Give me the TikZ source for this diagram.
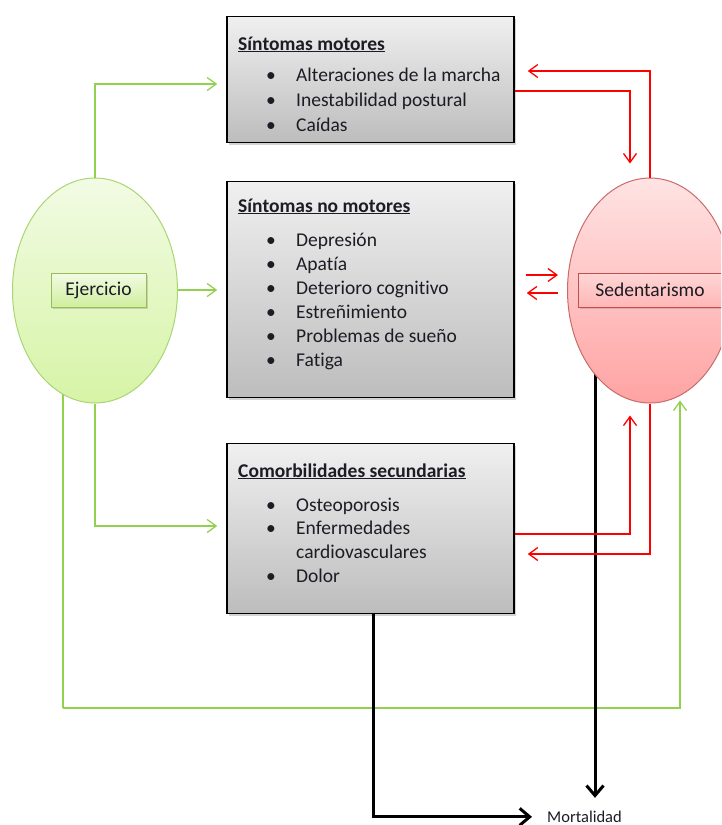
\documentclass[tikz,border=0pt]{standalone}
\usepackage{fontspec}
\setmainfont{Carlito}[Ligatures=NoCommon]
\usetikzlibrary{shapes.geometric,arrows.meta,shadows,backgrounds}
\definecolor{gline}{HTML}{92D050}
\definecolor{rline}{HTML}{FF0000}
\definecolor{gedge}{HTML}{A9D574}
\definecolor{gtop}{HTML}{F2FBE4}
\definecolor{gbot}{HTML}{D6F4A6}
\definecolor{redge}{HTML}{C96B69}
\definecolor{rtop}{HTML}{FFE3E3}
\definecolor{rbot}{HTML}{FFA3A3}
\definecolor{gboxedge}{HTML}{9BBB59}
\definecolor{rboxedge}{HTML}{C0504D}
\definecolor{txt}{HTML}{1C1C24}
\begin{document}
\begin{tikzpicture}[x=1pt,y=-1pt,
  font=\fontsize{19.5}{23.5}\selectfont,
  panel/.style={draw=black, line width=1.5pt, top color=black!6, bottom color=black!26,
    minimum width=287pt, inner sep=0pt,
    drop shadow={shadow xshift=2pt,shadow yshift=-2pt,opacity=0.35}},
  ttl/.style={anchor=base west, inner sep=0pt, text=txt, font=\fontsize{19.5}{23.5}\selectfont\bfseries},
  itm/.style={anchor=base west, inner sep=0pt, text=txt},
  bul/.style={anchor=base, inner sep=0pt, text=txt},
  oval/.style={ellipse, line width=1pt, minimum width=165pt, minimum height=225pt, inner sep=0pt},
  lbl/.style={minimum height=34pt, inner sep=0pt, line width=1pt, text=txt,
    drop shadow={shadow xshift=1.5pt,shadow yshift=-1.5pt,opacity=0.3}},
  garrow/.style={draw=gline, line width=1.3pt, -{Straight Barb[length=9pt,width=13pt]}},
  gline/.style={draw=gline, line width=1.3pt},
  rarrow/.style={draw=rline, line width=1.3pt, -{Straight Barb[length=9pt,width=13pt]}},
  barrow/.style={draw=black, line width=3pt, -{Straight Barb[length=10pt,width=17pt]}}
]
\useasboundingbox (0,0) rectangle (721,825);
\clip (0,0) rectangle (721,825);

% panels
\node[panel, minimum height=126pt] (m1) at (370.5,79.5) {};
\node[panel, minimum height=216pt] (m2) at (370.5,289.5) {};
\node[panel, minimum height=170pt] (m3) at (370.5,528.5) {};

% panel 1 text
\node[ttl] (m1t) at (238,50) {\underline{Síntomas motores}};
\foreach \n/\y/\t in {a/81/Alteraciones de la marcha, b/106/Inestabilidad postural, c/131/Caídas} {
  \node[bul] (m1b\n) at (271,\y) {\textbullet};
  \node[itm] (m1\n) at (296,\y) {\t};
}
% panel 2 text
\node[ttl] (m2t) at (238,212) {\underline{Síntomas no motores}};
\foreach \n/\y/\t in {a/246.5/Depresión, b/270/Apatía, c/294/Deterioro cognitivo, d/318/Estreñimiento, e/342/Problemas de sueño, f/366.5/Fatiga} {
  \node[bul] (m2b\n) at (271,\y) {\textbullet};
  \node[itm] (m2\n) at (296,\y) {\t};
}
% panel 3 text
\node[ttl] (m3t) at (238,477) {\underline{Comorbilidades secundarias}};
\foreach \n/\y/\t in {a/511/Osteoporosis, b/534.5/Enfermedades, d/582/Dolor} {
  \node[bul] (m3b\n) at (271,\y) {\textbullet};
  \node[itm] (m3\n) at (296,\y) {\t};
}
\node[itm] (m3c) at (296,558) {cardiovasculares};

% ellipses
\node[oval, draw=gedge, top color=gtop, bottom color=gbot] (ej) at (95,290.5) {};
\node[lbl, draw=gboxedge, top color=gtop, bottom color=gbot!90!gboxedge, minimum width=95pt] (ejl) at (98.5,290) {Ejercicio};
\node[oval, draw=redge, top color=rtop, bottom color=rbot] (sed) at (650,290.5) {};
\node[lbl, draw=rboxedge, top color=rtop!80!rbot, bottom color=rbot!70!rtop, minimum width=144pt] (sedl) at (650,290) {Sedentarismo};

% mortality label
\node[anchor=base west, inner sep=0pt, text=txt, font=\fontsize{16.5}{19}\selectfont] (mort) at (547,822.5) {Mortalidad};

% connectors behind the ovals
\begin{scope}[on background layer]
  \draw[gline] (ej.center -| 63,0) -- (63,708) coordinate (gcorner);
  \draw[garrow, shorten >=-3pt] (gcorner) -| (sed.south -| 680,0);
  \draw[barrow, shorten >=13pt] (sed.center -| 595,0) -- (mort.north -| 595,0);
\end{scope}

% green arrows from Ejercicio
\draw[garrow, shorten >=9pt] (ej.north) |- (m1.west |- 0,84);
\draw[garrow, shorten >=9pt] (ej.east |- 0,290) -- (m2.west |- 0,290);
\draw[garrow, shorten >=9pt] (ej.south) |- (m3.west |- 0,526);

% red arrows with Sedentarismo
\draw[rarrow, shorten >=13pt] (sed.north) |- (m1.east |- 0,71);
\draw[rarrow, shorten >=14pt] (m1.east |- 0,91) -| (sed.north -| 630,0);
\draw[rarrow, shorten <=11pt, shorten >=9pt] (m2.east |- 0,275) -- (sed.west |- 0,275);
\draw[rarrow, shorten <=9pt, shorten >=12pt] (sed.west |- 0,293) -- (m2.east |- 0,293);
\draw[rarrow, shorten >=12pt] (m3.east |- 0,534) -| (sed.south -| 630,0);
\draw[rarrow, shorten >=13pt] (sed.south) |- (m3.east |- 0,554);

% black arrow to mortality
\draw[barrow, shorten >=15pt] (m3.south -| 373,0) |- (mort.west);
\end{tikzpicture}
\end{document}
